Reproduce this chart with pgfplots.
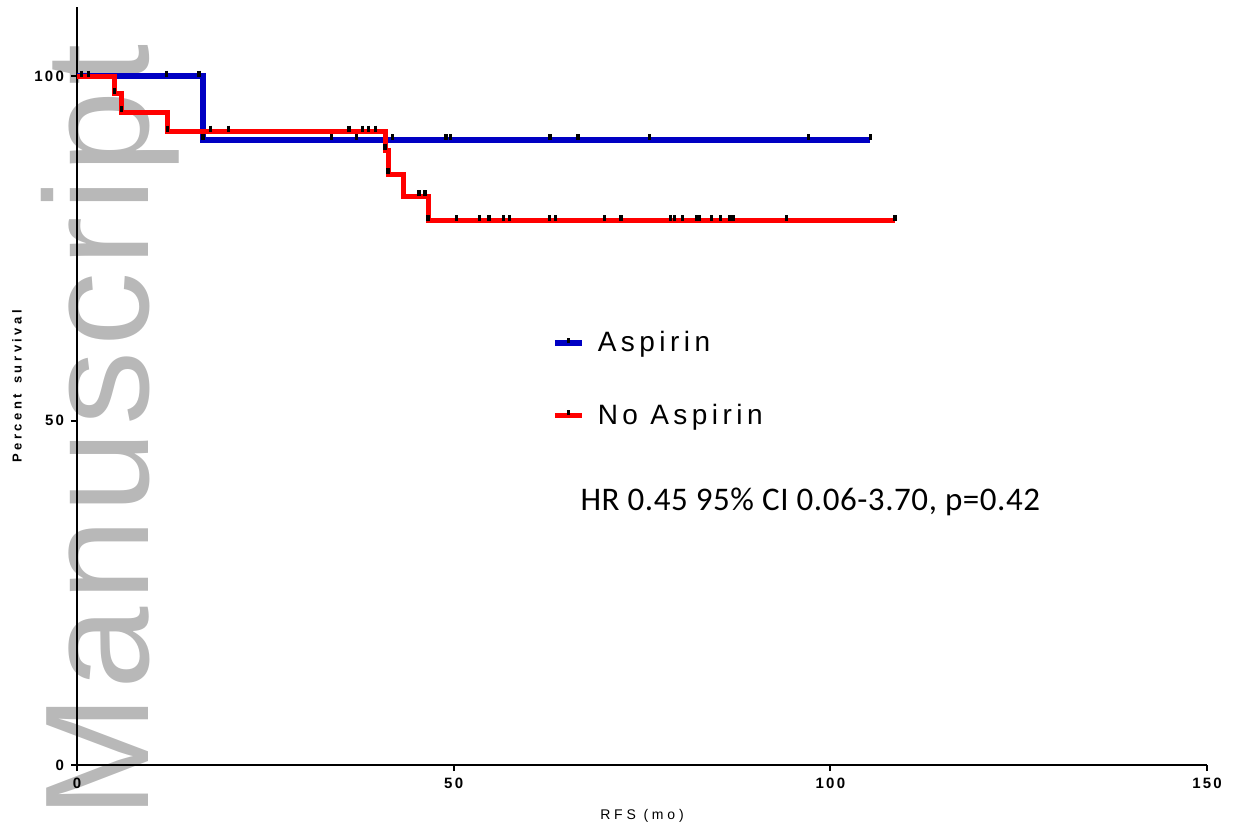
\documentclass[border=0pt]{standalone}
\usepackage{pgfplots}
\pgfplotsset{compat=1.18}
\usepackage{fontspec}
\setmainfont{Liberation Sans}
\newfontfamily\tickfont[LetterSpace=15]{Liberation Sans}
\newfontfamily\labfont[LetterSpace=27]{Liberation Sans}
\newfontfamily\legfont[LetterSpace=16]{Liberation Sans}
\newfontfamily\wmfont[LetterSpace=3.8]{Liberation Sans}
\newfontfamily\hrfont[LetterSpace=1.7]{Carlito}
\definecolor{kmblue}{RGB}{0,0,195}
\definecolor{kmred}{RGB}{255,0,0}

\begin{document}
\begin{tikzpicture}
\useasboundingbox (0,0) rectangle (618pt,415pt);
% journal watermark, behind everything
\node[rotate=90, anchor=base west, inner sep=0pt, text=black!28,
      font=\wmfont\fontsize{74pt}{74pt}\selectfont] at (74pt,5.5pt) {Manuscript};
\begin{axis}[
    at={(38.5pt,32.5pt)}, anchor=south west,
    scale only axis,
    width=565pt, height=378.75pt,
    xmin=0, xmax=150, ymin=0, ymax=110,
    axis x line=bottom, axis y line=left,
    axis line style={-},
    x axis line style={line width=1.3pt},
    y axis line style={line width=0.8pt},
    xtick={0,50,100,150}, xticklabels={0,50,100,150},
    ytick={0,50,100}, yticklabels={0,50,100},
    tick align=outside, major tick length=3pt,
    tick style={black, line width=1pt},
    ticklabel style={font=\tickfont\bfseries\fontsize{7.5pt}{8pt}\selectfont},
    xlabel={RFS (mo)},
    ylabel={Percent\hspace{5pt}survival},
    xlabel style={font=\labfont\fontsize{7pt}{8pt}\selectfont,
        at={(axis description cs:0.5,-0.0673)}, anchor=center},
    ylabel style={font=\labfont\bfseries\fontsize{6.5pt}{8pt}\selectfont,
        at={(axis description cs:-0.0531,0.5)}, anchor=center},
    clip=false,
    legend style={draw=none, fill=none, at={(axis cs:63.0,63.6)}, anchor=north west,
        font=\legfont\fontsize{14pt}{16pt}\selectfont, row sep=20.5pt,
        inner sep=0pt},
    legend cell align=left,
    legend image code/.code={
        \path[draw=none, fill=none] (0pt,0pt) -- (19.5pt,0pt);
        \draw[#1, line width=2.8pt] (0pt,0pt) -- (13.5pt,0pt);
        \draw[black, line width=1.4pt] (6.75pt,0pt) -- (6.75pt,2.6pt);
    },
]
% Aspirin
\addplot[kmblue, line width=3pt, const plot, forget plot] coordinates {
    (0,100) (16.7,90.8) (105.3,90.8)
};
\addplot[black, only marks, mark=|, mark size=1.5pt, line width=1.7pt,
    every mark/.append style={yshift=1.35pt}, forget plot] coordinates {
    (0.6,100) (1.5,100) (11.9,100) (16.2,100)
    (16.7,90.8) (33.8,90.8) (37.1,90.8) (41.9,90.8) (49.0,90.8) (49.6,90.8)
    (62.8,90.8) (66.5,90.8) (76.0,90.8) (97.1,90.8) (105.3,90.8)
};
% No aspirin
\addplot[kmred, line width=2.5pt, const plot, forget plot] coordinates {
    (0,100) (5.0,97.5) (5.9,94.8) (12.0,92.0) (40.9,89.3) (41.3,85.8)
    (43.4,82.6) (46.6,79.0) (108.6,79.0)
};
\addplot[black, only marks, mark=|, mark size=1.5pt, line width=1.7pt,
    every mark/.append style={yshift=1.35pt}, forget plot] coordinates {
    (5.0,97.5) (5.9,94.8)
    (12.0,92.0) (17.7,92.0) (20.1,92.0) (36.1,92.0) (37.9,92.0) (38.7,92.0) (39.6,92.0)
    (40.9,89.3) (41.3,85.8) (45.4,82.6) (46.2,82.6)
    (46.6,79.0) (50.4,79.0) (53.4,79.0) (54.7,79.0) (56.6,79.0) (57.4,79.0)
    (62.7,79.0) (63.5,79.0) (70.0,79.0) (72.2,79.0) (78.8,79.0) (79.3,79.0)
    (80.4,79.0) (82.2,79.0) (82.6,79.0) (84.2,79.0) (85.4,79.0) (86.6,79.0)
    (87.1,79.0) (94.2,79.0) (108.6,79.0)
};
\addlegendimage{kmblue}
\addlegendimage{kmred}
\legend{Aspirin, No Aspirin}
\node[anchor=base west, inner sep=0pt, font=\hrfont\fontsize{16.5pt}{19pt}\selectfont]
    at (axis cs:66.8,37.0) {HR 0.45 95\% CI 0.06-3.70, p=0.42};
\end{axis}
\end{tikzpicture}
\end{document}
